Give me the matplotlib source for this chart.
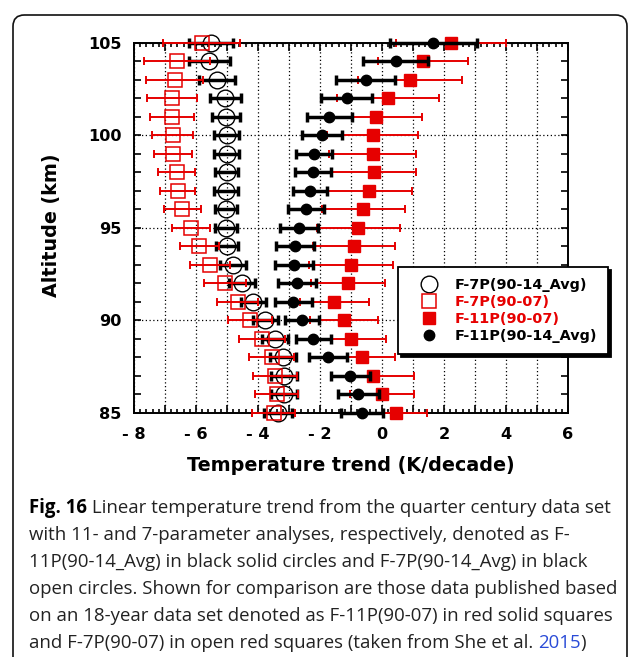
import matplotlib.pyplot as plt
from matplotlib.patches import FancyBboxPatch
from matplotlib.ticker import MultipleLocator, FuncFormatter

plt.rcParams['font.family'] = ['DejaVu Sans']

RED = '#e60000'

altitude = list(range(85, 106))

# F-7P(90-14_Avg): black open circles
f7p_avg = [-3.35, -3.16, -3.16, -3.20, -3.45, -3.77, -4.15, -4.53, -4.80, -5.01, -5.03,
           -5.04, -5.04, -5.01, -5.01, -5.01, -5.04, -5.06, -5.31, -5.57, -5.52]
f7p_avg_err = [0.45, 0.42, 0.42, 0.42, 0.42, 0.40, 0.40, 0.42, 0.42, 0.36, 0.35,
               0.36, 0.38, 0.38, 0.40, 0.40, 0.45, 0.50, 0.58, 0.67, 0.70]

# F-7P(90-07): red open squares
f7p_0707 = [-3.50, -3.40, -3.45, -3.56, -3.88, -4.26, -4.65, -5.06, -5.55, -5.89, -6.17,
            -6.44, -6.59, -6.62, -6.75, -6.75, -6.78, -6.78, -6.68, -6.62, -5.82]
f7p_0707_err = [0.70, 0.70, 0.70, 0.72, 0.74, 0.70, 0.66, 0.67, 0.65, 0.62, 0.62,
                0.60, 0.56, 0.60, 0.62, 0.66, 0.72, 0.80, 0.92, 1.07, 1.24]

# F-11P(90-07): red solid squares
f11p_0707 = [0.44, 0.00, -0.30, -0.65, -1.01, -1.23, -1.54, -1.10, -1.00, -0.90, -0.76,
             -0.60, -0.41, -0.25, -0.30, -0.30, -0.20, 0.20, 0.90, 1.31, 2.22]
f11p_0707_err = [1.00, 1.03, 1.33, 1.07, 1.14, 1.10, 1.12, 1.20, 1.36, 1.32, 1.34,
                 1.34, 1.37, 1.35, 1.40, 1.47, 1.50, 1.64, 1.67, 1.45, 1.78]

# F-11P(90-14_Avg): black solid circles
f11p_avg = [-0.64, -0.76, -1.03, -1.75, -2.22, -2.57, -2.86, -2.75, -2.84, -2.81, -2.68,
            -2.46, -2.32, -2.24, -2.19, -1.93, -1.70, -1.14, -0.53, 0.44, 1.66]
f11p_avg_err = [0.68, 0.65, 0.63, 0.62, 0.56, 0.55, 0.60, 0.62, 0.60, 0.60, 0.62,
                0.58, 0.55, 0.58, 0.58, 0.64, 0.72, 0.83, 0.95, 1.05, 1.40]

labels = ['F-7P(90-14_Avg)', 'F-7P(90-07)', 'F-11P(90-07)', 'F-11P(90-14_Avg)']
label_colors = ['black', RED, RED, 'black']

caption = [
    ('Fig. 16', ' Linear temperature trend from the quarter century data set'),
    ('', 'with 11- and 7-parameter analyses, respectively, denoted as F-'),
    ('', '11P(90-14_Avg) in black solid circles and F-7P(90-14_Avg) in black'),
    ('', 'open circles. Shown for comparison are those data published based'),
    ('', 'on an 18-year data set denoted as F-11P(90-07) in red solid squares'),
    ('', 'and F-7P(90-07) in open red squares (taken from She et al. '),
]

fig = plt.figure(figsize=(6.31, 6.57), dpi=100)
ax = fig.add_axes([0.2124, 0.3714, 0.6878, 0.5632])


def bars(x, err, color, lw, cap, z):
    eb = ax.errorbar(x, altitude, xerr=err, fmt='none', ecolor=color,
                     elinewidth=lw, capsize=cap, capthick=lw, zorder=z)
    for art in eb.get_children():
        art.set_clip_on(False)


bars(f11p_0707, f11p_0707_err, RED, 1.4, 3.0, 3.0)
h3, = ax.plot(f11p_0707, altitude, 's', ms=8, color=RED, clip_on=False, zorder=3.1)
bars(f11p_avg, f11p_avg_err, 'black', 2.5, 3.3, 3.2)
h4, = ax.plot(f11p_avg, altitude, 'o', ms=7.5, color='black', clip_on=False, zorder=3.3)
bars(f7p_avg, f7p_avg_err, 'black', 2.5, 3.3, 3.4)
h1, = ax.plot(f7p_avg, altitude, 'o', ms=12, mfc='none', mec='black', mew=1.0,
              clip_on=False, zorder=3.5)
bars(f7p_0707, f7p_0707_err, RED, 1.4, 3.0, 3.6)
h2, = ax.plot(f7p_0707, altitude, 's', ms=10.5, mfc='none', mec=RED, mew=1.1,
              clip_on=False, zorder=3.7)

ax.set_xlim(-8, 6)
ax.set_ylim(85, 105)

ax.xaxis.set_major_locator(MultipleLocator(1))
ax.xaxis.set_minor_locator(MultipleLocator(0.2))
ax.yaxis.set_major_locator(MultipleLocator(5))
ax.yaxis.set_minor_locator(MultipleLocator(1))


def xfmt(v, pos):
    n = int(round(v))
    if n % 2:
        return ''
    return f'- {abs(n)}' if n < 0 else f'{n}'


ax.xaxis.set_major_formatter(FuncFormatter(xfmt))
ax.yaxis.set_major_formatter(FuncFormatter(lambda v, p: f'{int(round(v))}'))

ax.tick_params(which='both', direction='in', top=True, right=True, width=1.2,
               labelsize=11.6)
ax.tick_params(axis='x', which='major', length=6, pad=10)
ax.tick_params(axis='x', which='minor', length=3)
ax.tick_params(axis='y', which='both', length=5, pad=9)
for lab in ax.get_xticklabels() + ax.get_yticklabels():
    lab.set_fontweight('bold')

ax.grid(True, which='major', color='black', linestyle=(0, (1, 2)), linewidth=0.9)
ax.set_axisbelow(True)
for sp in ax.spines.values():
    sp.set_linewidth(1.4)

ax.set_xlabel('Temperature trend (K/decade)', fontsize=13.8, fontweight='bold', va='center')
ax.xaxis.set_label_coords(0.5, -0.1432)
ax.set_ylabel('Altitude (km)', fontsize=13.8, fontweight='bold', va='center')
ax.yaxis.set_label_coords(-0.189, 0.508)

leg = ax.legend([h1, h2, h3, h4], labels, loc='upper left',
                bbox_to_anchor=(0.608, 0.395), bbox_transform=ax.transAxes,
                fancybox=False, edgecolor='black', framealpha=1,
                shadow={'facecolor': 'black', 'edgecolor': 'black', 'alpha': 1},
                prop={'weight': 'bold', 'size': 10.4}, labelcolor=label_colors,
                handlelength=2.8, handletextpad=0.4, labelspacing=0.22,
                borderpad=0.75, borderaxespad=0)
leg.get_frame().set_linewidth(1.3)
leg.set_zorder(10)

# rounded frame around figure and caption
fig.patches.append(FancyBboxPatch((13 / 631, -0.05), 614 / 631, 1.05 - 15 / 657,
                                  boxstyle='round,pad=0,rounding_size=0.018',
                                  mutation_aspect=631 / 657,
                                  transform=fig.transFigure, facecolor='none',
                                  edgecolor='#111111', linewidth=1.2))

r = fig.canvas.get_renderer()
x0 = 29 / 631
fs = 13.4
for i, (bold, rest) in enumerate(caption):
    y = 1 - (513 + 27 * i) / 657
    x = x0
    if bold:
        t = fig.text(x, y, bold, fontsize=fs, fontweight='bold', family='Open Sans',
                     va='baseline')
        x = fig.transFigure.inverted().transform((t.get_window_extent(r).x1, 0))[0]
    t = fig.text(x, y, rest, fontsize=fs, family='Open Sans', va='baseline',
                 color='#222222')
    if i == len(caption) - 1:
        x = fig.transFigure.inverted().transform((t.get_window_extent(r).x1, 0))[0]
        t = fig.text(x, y, '2015', fontsize=fs, family='Open Sans', va='baseline',
                     color='#2a4bd7')
        x = fig.transFigure.inverted().transform((t.get_window_extent(r).x1, 0))[0]
        fig.text(x, y, ')', fontsize=fs, family='Open Sans', va='baseline',
                 color='#222222')

fig.savefig('out.png', dpi=100)
